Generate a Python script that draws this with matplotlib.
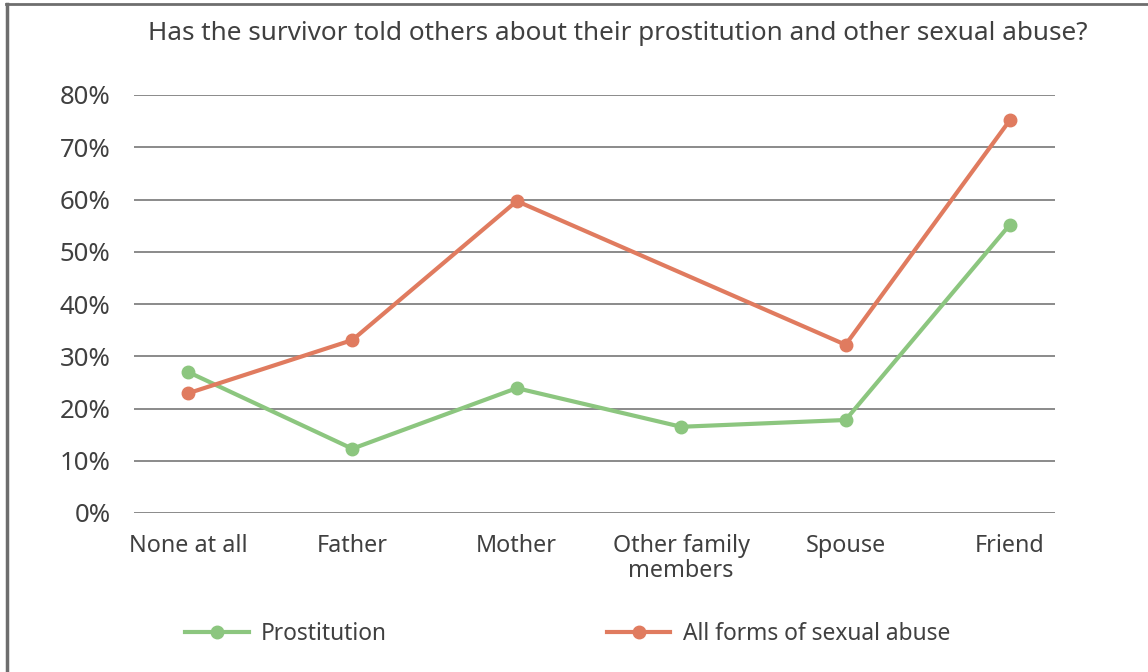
import matplotlib.pyplot as plt
import numpy as np
from matplotlib.lines import Line2D

# Dati del grafico
categories = ["None at all", "Father", "Mother", "Other family\nmembers", "Spouse", "Friend"]
prostitution = [27.0, 12.3, 23.9, 16.5, 17.8, 55.2]
sexual_abuse = [22.9, 33.1, 59.7, None, 32.2, 75.2]
y_ticks = [0, 10, 20, 30, 40, 50, 60, 70, 80]

TITLE = "Has the survivor told others about their prostitution and other sexual abuse?"
GREEN = "#8cc67f"
ORANGE = "#e07b5f"
TEXT = "#404040"

plt.rcParams['font.family'] = ['Noto Sans', 'DejaVu Sans']

fig = plt.figure(figsize=(11.48, 6.72), dpi=100)
ax = fig.add_axes([134 / 1148, 1 - 513 / 672, (1055 - 134) / 1148, (513 - 95) / 672])

x = np.arange(len(categories))
y1 = np.array(prostitution, dtype=float)
y2 = np.array([np.nan if v is None else v for v in sexual_abuse], dtype=float)
m2 = ~np.isnan(y2)

ax.plot(x, y1 / 100, color=GREEN, lw=3, marker='o', ms=9, clip_on=False, zorder=3)
ax.plot(x[m2], y2[m2] / 100, color=ORANGE, lw=3, marker='o', ms=9, clip_on=False, zorder=3)

ax.set_ylim(0, 0.8)
ax.set_xlim(-0.328, 5.274)
ax.set_yticks([t / 100 for t in y_ticks])
ax.set_yticklabels([f"{t}%" for t in y_ticks], fontsize=18.5, color=TEXT)
ax.set_xticks(x)
ax.set_xticklabels(categories, fontsize=16.8, color=TEXT, linespacing=1.05)
ax.tick_params(length=0)
ax.tick_params(axis='y', pad=17)
ax.tick_params(axis='x', pad=15)

ax.grid(axis='y', color='#8a8a8a', lw=1.4)
ax.set_axisbelow(True)
for s in ax.spines.values():
    s.set_visible(False)

fig.text(618 / 1148, 1 - 33 / 672, TITLE, ha='center', va='center', fontsize=18.8, color=TEXT)

# Legenda in basso
handles = [
    Line2D([], [], color=GREEN, lw=3, marker='o', ms=9),
    Line2D([], [], color=ORANGE, lw=3, marker='o', ms=9),
]
fig.legend(handles, ["Prostitution", "All forms of sexual abuse"], loc='center left',
           bbox_to_anchor=(185 / 1148, 1 - 634 / 672), ncol=2, frameon=False,
           fontsize=16.4, labelcolor=TEXT, handlelength=2.8, handletextpad=0.53,
           columnspacing=9.65, borderpad=0, borderaxespad=0)

# Bordo del riquadro
fig.add_artist(Line2D([6 / 1148, 1], [1 - 4 / 672, 1 - 4 / 672], color='#6e6e6e', lw=2,
                      transform=fig.transFigure))
fig.add_artist(Line2D([7 / 1148, 7 / 1148], [0, 1 - 4 / 672], color='#6e6e6e', lw=2.5,
                      transform=fig.transFigure))

fig.savefig("out.png", dpi=100, facecolor='white')
